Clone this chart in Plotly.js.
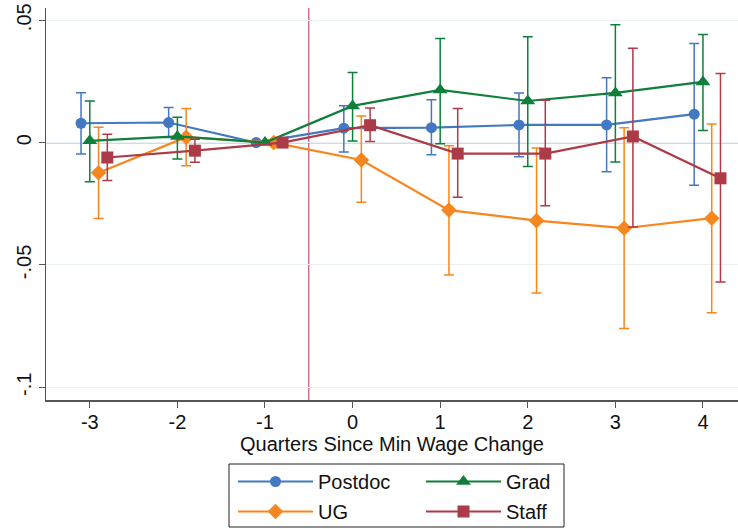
<!DOCTYPE html>
<html>
<head>
<meta charset="utf-8">
<script src="https://cdn.plot.ly/plotly-3.0.1.min.js"></script>
<style>html,body{margin:0;padding:0;background:#fff;}#chart{width:738px;height:529px;}</style>
</head>
<body>
<div id="chart"></div>
<script>
// Event time (quarters since minimum wage change)
const quarters = [-3, -2, -1, 0, 1, 2, 3, 4];

// Point estimates
const postdoc = [0.0079, 0.0082, 0, 0.0059, 0.0061, 0.0072, 0.0072, 0.0116];
const grad    = [0.0007, 0.0025, 0, 0.0150, 0.0215, 0.0170, 0.0203, 0.0248];
const ug      = [-0.0123, 0.0022, 0, -0.0071, -0.0276, -0.0319, -0.0350, -0.0309];
const staff   = [-0.0061, -0.0033, 0, 0.0071, -0.0045, -0.0045, 0.0025, -0.0146];

// Upper 95% CI bounds (null = no interval)
const postdocHi = [0.0204, 0.0143, null, 0.0151, 0.0175, 0.0203, 0.0265, 0.0405];
const gradHi    = [0.0170, 0.0104, null, 0.0286, 0.0425, 0.0433, 0.0482, 0.0442];
const ugHi      = [0.0063, 0.0139, null, 0.0109, -0.0013, -0.0022, 0.0061, 0.0076];
const staffHi   = [0.0034, 0.0014, null, 0.0141, 0.0139, 0.0173, 0.0386, 0.0282];

// Lower 95% CI bounds
const postdocLo = [-0.0047, 0.0021, null, -0.0039, -0.0050, -0.0058, -0.0119, -0.0174];
const gradLo    = [-0.0160, -0.0067, null, 0.0006, -0.0005, -0.0098, -0.0079, 0.0049];
const ugLo      = [-0.0310, -0.0095, null, -0.0244, -0.0541, -0.0615, -0.0760, -0.0695];
const staffLo   = [-0.0155, -0.0080, null, 0.0004, -0.0223, -0.0258, -0.0345, -0.0570];

const yTickVals = [-0.1, -0.05, 0, 0.05];
const yTickText = ['-.1', '-.05', '0', '.05'];
const xTitle = 'Quarters Since Min Wage Change';
const eventLine = -0.5;

const FONT = 'Liberation Sans, Arial, sans-serif';

function series(name, vals, hi, lo, offset, color, symbol, size, legend) {
  return {
    type: 'scatter', mode: 'lines+markers', name: name,
    x: quarters.map(q => q + offset), y: vals,
    line: {color: color, width: 2.2},
    marker: {color: color, symbol: symbol, size: size},
    error_y: {
      type: 'data', symmetric: false,
      array: vals.map((v, i) => hi[i] === null ? 0 : hi[i] - v),
      arrayminus: vals.map((v, i) => lo[i] === null ? 0 : v - lo[i]),
      color: color, thickness: 1.5, width: 5
    },
    legend: legend, legendgroup: name
  };
}

const traces = [
  series('Postdoc', postdoc, postdocHi, postdocLo, -0.1, '#4378c2', 'circle', 11, 'legend'),
  series('UG', ug, ugHi, ugLo, 0.1, '#f7861f', 'diamond', 12, 'legend'),
  series('Grad', grad, gradHi, gradLo, 0.0, '#0f7f3b', 'triangle-up', 13, 'legend2'),
  series('Staff', staff, staffHi, staffLo, 0.2, '#ad3a47', 'square', 12, 'legend2')
];

// plot area in pixels (for converting legend/box positions to paper fractions)
const PL = 46, PW = 692, PB = 400, PH = 392;
const px2x = p => (p - PL) / PW;
const px2y = p => (PB - p) / PH;

const legendCommon = {
  orientation: 'v', bgcolor: 'rgba(0,0,0,0)', borderwidth: 0,
  font: {family: FONT, size: 20, color: '#111'},
  tracegroupgap: 1, itemwidth: 75,
  xanchor: 'left', yanchor: 'top'
};

const layout = {
  width: 738, height: 529,
  margin: {l: 46, r: 0, t: 8, b: 129, autoexpand: false},
  paper_bgcolor: '#fff', plot_bgcolor: '#fff',
  font: {family: FONT, size: 20, color: '#111'},
  showlegend: true,
  xaxis: {
    range: [-3.5, 4.4], tickvals: quarters, ticktext: quarters.map(String),
    showgrid: false, zeroline: false, automargin: false,
    showline: true, linecolor: '#555', linewidth: 1.5,
    ticks: 'outside', ticklen: 6, tickcolor: '#555', tickwidth: 1,
    ticklabelstandoff: -3,
    tickfont: {family: FONT, size: 20, color: '#111'},
    title: {text: xTitle, font: {family: FONT, size: 20, color: '#111'}, standoff: 0}
  },
  yaxis: {
    range: [-0.1052, 0.055], tickvals: yTickVals, ticktext: yTickText,
    tickangle: -90, automargin: false,
    showgrid: true, gridcolor: '#eaf1f4', gridwidth: 1,
    zeroline: false,
    showline: true, linecolor: '#555', linewidth: 1.5,
    ticks: 'outside', ticklen: 6, tickcolor: '#555', tickwidth: 1,
    tickfont: {family: FONT, size: 20, color: '#111'}
  },
  shapes: [
    {type: 'line', xref: 'paper', yref: 'y', x0: 0, x1: 1, y0: 0, y1: 0,
     line: {color: '#d9365f', width: 1.2}, layer: 'below'},
    {type: 'line', xref: 'x', yref: 'paper', x0: eventLine, x1: eventLine, y0: 0, y1: 1,
     line: {color: '#cf4f6f', width: 1.2}, layer: 'below'},
    {type: 'rect', xref: 'paper', yref: 'paper',
     x0: px2x(229), x1: px2x(564), y0: px2y(527), y1: px2y(464),
     line: {color: '#222', width: 1}, fillcolor: 'rgba(0,0,0,0)'}
  ],
  legend: Object.assign({}, legendCommon, {x: px2x(233), y: px2y(462)}),
  legend2: Object.assign({}, legendCommon, {x: px2x(421), y: px2y(462)})
};

Plotly.newPlot('chart', traces, layout, {displayModeBar: false, staticPlot: true});
</script>
</body>
</html>
